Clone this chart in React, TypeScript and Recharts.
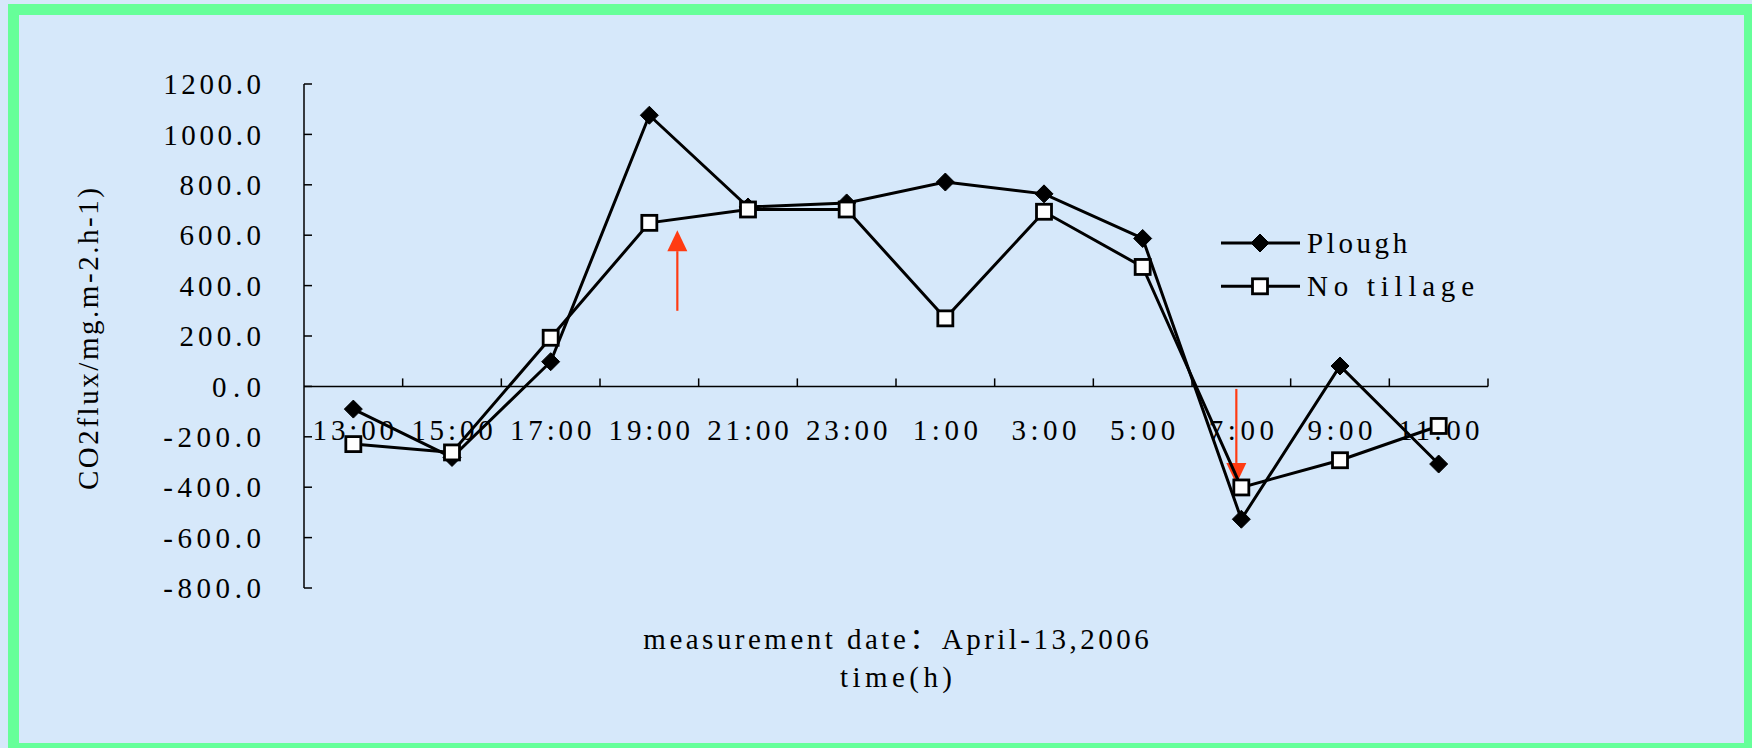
import React from "react";
import { LineChart, Line, XAxis, YAxis, ReferenceLine, Legend } from "recharts";

const times = ["13:00", "15:00", "17:00", "19:00", "21:00", "23:00", "1:00", "3:00", "5:00", "7:00", "9:00", "11:00"];
const plough = [-90, -282, 98, 1076, 712, 728, 811, 764, 587, -527, 81, -308];
const noTillage = [-229, -262, 193, 649, 702, 702, 270, 693, 474, -401, -293, -157];
const yTicks = [-800, -600, -400, -200, 0, 200, 400, 600, 800, 1000, 1200];
const seriesOrder = ["plough", "noTillage"];

// red arrows drawn on the chart (data coords, dx = small pixel nudge)
const arrows = [
  { at: "19:00", from: 300, to: 620, dx: 28 },
  { at: "7:00", from: -10, to: -387, dx: -5 },
];

const FONT = "'Liberation Serif', 'Noto Sans CJK SC', serif";
const FS = 29;
const CW = 16.3; // width of one half-width cell, the source font is monospaced
const W = 1752;
const H = 748;
const PLOT_LEFT = 304;
const PLOT_RIGHT = 1488;
const PLOT_TOP = 84;
const X_AXIS_H = 160;
const HALF_BAND = (PLOT_RIGHT - PLOT_LEFT) / times.length / 2;

const data = times.map((t, i) => ({ time: t, plough: plough[i], noTillage: noTillage[i] }));

const cells = (s: string) => Array.from(s).reduce((n, c) => n + (c.charCodeAt(0) > 255 ? 2 : 1), 0);

// serif text stretched to monospace width
const MText = ({ children, cw = CW, ...rest }: any) => (
  <text
    fontFamily={FONT}
    fontSize={FS}
    fill="#000"
    textLength={cells(String(children)) * cw}
    lengthAdjust="spacing"
    {...rest}
  >
    {children}
  </text>
);

const Diamond = ({ cx, cy }: any) => (
  <polygon
    points={`${cx},${cy - 9} ${cx + 9},${cy} ${cx},${cy + 9} ${cx - 9},${cy}`}
    fill="#000"
    stroke="#000"
    strokeWidth={1}
  />
);

const Square = ({ cx, cy }: any) => (
  <rect x={cx - 7.5} y={cy - 7.5} width={15} height={15} fill="#fff" stroke="#000" strokeWidth={2.8} />
);

// axis drawn on the zero line, with ticks between categories
const ZeroAxis = (props: any) => {
  const { x1, x2, y1 } = props;
  const left = Math.min(x1, x2);
  const right = Math.max(x1, x2);
  const band = (right - left) / times.length;
  return (
    <g>
      <line x1={left} x2={right} y1={y1} y2={y1} stroke="#000" strokeWidth={1.5} />
      {times.map((t, i) => (
        <g key={t}>
          <line x1={left + band * (i + 1)} x2={left + band * (i + 1)} y1={y1} y2={y1 - 8} stroke="#000" strokeWidth={1.5} />
          <MText x={left + band * (i + 0.5)} y={y1 + 43} dy="0.35em" textAnchor="middle">
            {t}
          </MText>
        </g>
      ))}
    </g>
  );
};

const makeArrow = (dx: number) => (props: any) => {
  const { x1, y1, x2, y2 } = props;
  const x = (x1 + x2) / 2 + dx;
  const tipY = y2;
  const dir = y2 < y1 ? 1 : -1;
  const baseY = tipY + dir * 21;
  return (
    <g>
      <line x1={x} x2={x} y1={y1} y2={baseY} stroke="#FF3B12" strokeWidth={2.2} />
      <polygon points={`${x},${tipY} ${x - 10},${baseY} ${x + 10},${baseY}`} fill="#FF3B12" />
    </g>
  );
};

const YTick = (props: any) => {
  const { x, y, payload } = props;
  return (
    <g>
      <MText x={x} y={y} dy="0.35em" textAnchor="end">
        {Number(payload.value).toFixed(1)}
      </MText>
      <line x1={x + 43} x2={x + 51} y1={y} y2={y} stroke="#000" strokeWidth={1.5} />
    </g>
  );
};

const YTitle = (props: any) => {
  const { x, y, height } = props.viewBox;
  const cx = x + 88;
  const cy = y + height / 2 + 3;
  return (
    <MText
      x={cx}
      y={cy}
      dy="0.35em"
      textAnchor="middle"
      transform={`rotate(-90, ${cx}, ${cy})`}
      cw={15.9}
    >
      CO2flux/mg.m-2.h-1)
    </MText>
  );
};

const XTitle = (props: any) => {
  const { x, y, width } = props.viewBox;
  const cx = x + width / 2;
  return (
    <g>
      <MText x={cx} y={y + 51} dy="0.35em" textAnchor="middle">
        measurement date：April-13,2006
      </MText>
      <MText x={cx} y={y + 89} dy="0.35em" textAnchor="middle" cw={16}>
        time(h)
      </MText>
    </g>
  );
};

const LegendContent = ({ payload }: any) => {
  const items = [...(payload || [])].sort(
    (a: any, b: any) => seriesOrder.indexOf(a.dataKey) - seriesOrder.indexOf(b.dataKey)
  );
  return (
    <svg width={330} height={90}>
      {items.map((item: any, i: number) => {
        const cy = 22 + i * 43.3;
        return (
          <g key={item.value}>
            <line x1={0} x2={79} y1={cy} y2={cy} stroke="#000" strokeWidth={3} />
            {item.dataKey === "plough" ? <Diamond cx={39} cy={cy} /> : <Square cx={39} cy={cy} />}
            <MText x={86} y={cy} dy="0.35em" cw={16.7}>
              {item.value}
            </MText>
          </g>
        );
      })}
    </svg>
  );
};

export default function App() {
  return (
    <div
      style={{
        position: "absolute",
        left: 0,
        top: 0,
        width: W,
        height: H,
        overflow: "hidden",
        background: "#D6E8FA",
      }}
    >
      <div
        style={{
          position: "absolute",
          left: 8,
          top: 4,
          width: 1747,
          height: 750,
          border: "11px solid #66FF99",
          boxSizing: "border-box",
        }}
      />
      <div style={{ position: "absolute", left: 0, top: 0 }}>
        <LineChart
          width={W}
          height={H}
          data={data}
          margin={{ top: PLOT_TOP, right: W - PLOT_RIGHT, bottom: H - PLOT_TOP - 504 - X_AXIS_H, left: 0 }}
        >
          <XAxis
            dataKey="time"
            padding={{ left: HALF_BAND, right: HALF_BAND }}
            axisLine={false}
            tickLine={false}
            tick={false}
            height={X_AXIS_H}
            label={XTitle}
          />
          <YAxis
            type="number"
            domain={[-800, 1200]}
            ticks={yTicks}
            interval={0}
            width={PLOT_LEFT}
            axisLine={{ stroke: "#000", strokeWidth: 1.5 }}
            tickLine={false}
            tickSize={0}
            tickMargin={43}
            tick={YTick}
            label={YTitle}
          />
          <ReferenceLine y={0} shape={ZeroAxis} />
          {arrows.map((a) => (
            <ReferenceLine
              key={a.at}
              segment={[
                { x: a.at, y: a.from },
                { x: a.at, y: a.to },
              ]}
              shape={makeArrow(a.dx)}
            />
          ))}
          <Line
            name="Plough"
            dataKey="plough"
            stroke="#000"
            strokeWidth={3}
            dot={(p: any) => <Diamond key={`p${p.index}`} cx={p.cx} cy={p.cy} />}
            activeDot={false}
            isAnimationActive={false}
          />
          <Line
            name="No tillage"
            dataKey="noTillage"
            stroke="#000"
            strokeWidth={3}
            dot={(p: any) => <Square key={`n${p.index}`} cx={p.cx} cy={p.cy} />}
            activeDot={false}
            isAnimationActive={false}
          />
          <Legend
            layout="vertical"
            align="center"
            verticalAlign="middle"
            content={LegendContent}
            wrapperStyle={{ left: 1221, top: 221, width: 330 }}
          />
        </LineChart>
      </div>
    </div>
  );
}
